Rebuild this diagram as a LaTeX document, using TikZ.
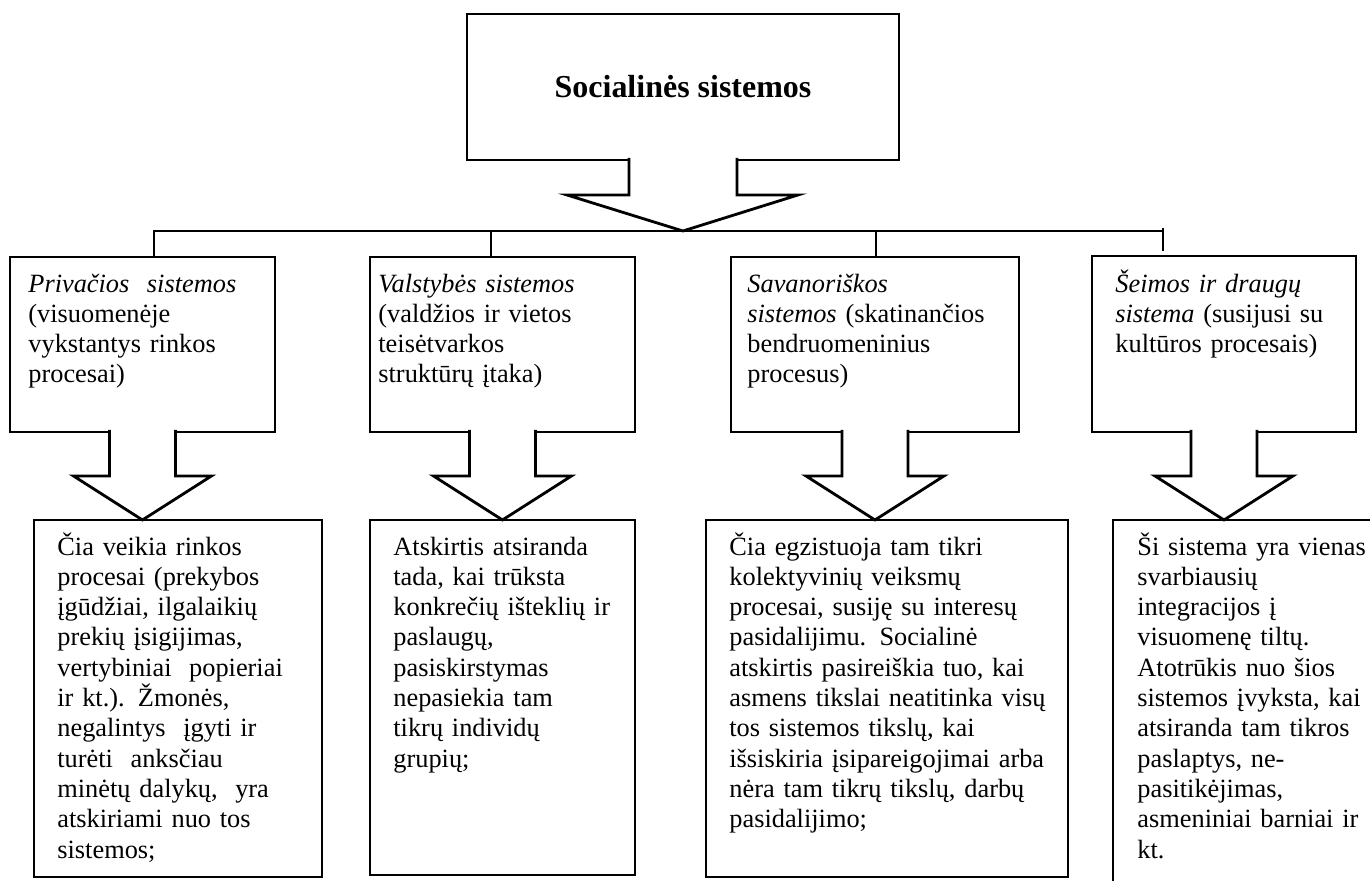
\documentclass[tikz,border=0pt]{standalone}
\usepackage{fontspec}
\setmainfont{Liberation Serif}

\begin{document}
\begin{tikzpicture}[x=0.02cm,y=-0.02cm,line width=1.6pt,
		frame/.style={draw,rectangle,anchor=north west,inner sep=0pt,outer sep=0pt},
		body/.style={anchor=base west,inner sep=0pt,text width=8cm,align=left,
			font=\fontsize{15}{17.25}\selectfont},
		title/.style={font=\fontsize{18.2}{21}\selectfont\bfseries},
		block arrow/.style={draw,fill=white,line join=miter}]
	
	\clip (0,0) rectangle (1370,880);
	
	% top box
	\node[frame,minimum width=8.64cm,minimum height=2.92cm] (top) at (467,14) {};
	\node[title] (head) at (683,87) {Socialinės sistemos};
	\draw[block arrow] ([shift={(-54,-2)}]top.south) -- ++(0,37) -- ++(-62,0)
		-- ++(116,36) -- ++(115,-36) -- ++(-61,0) -- ++(0,-37);
	
	% upper boxes
	\node[frame,minimum width=5.3cm,minimum height=3.5cm] (u1) at (10,257) {};
	\node[frame,minimum width=5.3cm,minimum height=3.5cm] (u2) at (370,257) {};
	\node[frame,minimum width=5.76cm,minimum height=3.5cm] (u3) at (731,257) {};
	\node[frame,minimum width=5.28cm,minimum height=3.52cm] (u4) at (1092,256) {};
	
	% lower boxes
	\node[frame,minimum width=5.76cm,minimum height=7.14cm] (l1) at (34,520) {};
	\node[frame,minimum width=5.3cm,minimum height=7.1cm] (l2) at (370,520) {};
	\node[frame,minimum width=7.24cm,minimum height=7.14cm] (l3) at (706,520) {};
	\node[frame,minimum width=6cm,minimum height=8cm] (l4) at (1113,520) {};
	
	\foreach \b in {u1,u2,u3,u4}
		\draw[block arrow] ([shift={(-33,-2)}]\b.south) -- ++(0,46) -- ++(-36,0)
			-- ++(69,44) -- ++(69,-44) -- ++(-36,0) -- ++(0,-46);
	
	% bus line
	\coordinate (j1) at (154,231);
	\coordinate (j2) at (491,231);
	\coordinate (j3) at (876,231);
	\coordinate (j4) at (1163,231);
	\draw (j1 |- u1.north) -- (j1) -- (j4);
	\draw (j2) -- (j2 |- u2.north);
	\draw (j3) -- (j3 |- u3.north);
	\draw ([shift={(0,-3)}]j4) -- ++(0,23);
	
	% texts
	\node[body] (u1text) at (27,292) {\textit{Privačios\ \ sistemos}\\(visuomenėje\\vykstantys rinkos\\procesai)};
	\node[body] (u2text) at (377,292) {\textit{Valstybės sistemos}\\(valdžios ir vietos\\teisėtvarkos\\struktūrų įtaka)};
	\node[body] (u3text) at (746,292) {\textit{Savanoriškos}\\\textit{sistemos} (skatinančios\\bendruomeninius\\procesus)};
	\node[body] (u4text) at (1114,292) {\textit{Šeimos ir draugų}\\\textit{sistema} (susijusi su\\kultūros procesais)};
	
	\node[body] (l1text) at (56,555) {Čia veikia rinkos\\procesai (prekybos\\įgūdžiai, ilgalaikių\\prekių įsigijimas,\\vertybiniai\ \ popieriai\\ir kt.). Žmonės,\\negalintys\ \ įgyti ir\\turėti\ \ anksčiau\\minėtų dalykų,\ \ yra\\atskiriami nuo tos\\sistemos;};
	\node[body] (l2text) at (392,555) {Atskirtis atsiranda\\tada, kai trūksta\\konkrečių išteklių ir\\paslaugų,\\pasiskirstymas\\nepasiekia tam\\tikrų individų\\grupių;};
	\node[body] (l3text) at (728,555) {Čia egzistuoja tam tikri\\kolektyvinių veiksmų\\procesai, susiję su interesų\\pasidalijimu. Socialinė\\atskirtis pasireiškia tuo, kai\\asmens tikslai neatitinka visų\\tos sistemos tikslų, kai\\išsiskiria įsipareigojimai arba\\nėra tam tikrų tikslų, darbų\\pasidalijimo;};
	\node[body] (l4text) at (1136,555) {Ši sistema yra vienas\\svarbiausių\\integracijos į\\visuomenę tiltų.\\Atotrūkis nuo šios\\sistemos įvyksta, kai\\atsiranda tam tikros\\paslaptys, ne-\\pasitikėjimas,\\asmeniniai barniai ir\\kt.};
\end{tikzpicture}
\end{document}
